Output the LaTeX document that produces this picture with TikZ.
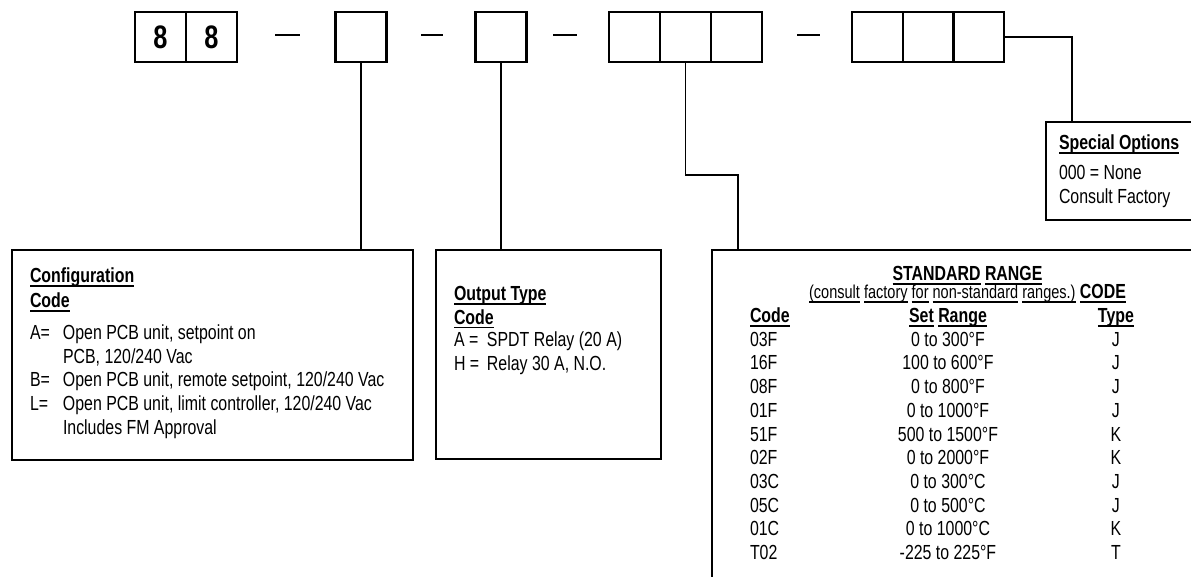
\documentclass[tikz,border=0pt]{standalone}
\usepackage{fontspec}
\setmainfont{Liberation Sans}[FakeStretch=0.78]
\usepackage{array}
\usetikzlibrary{positioning}
\newsavebox{\ulnbox}
\newcommand{\uln}[1]{\leavevmode\sbox\ulnbox{#1}\rlap{\rule[-2.3pt]{\wd\ulnbox}{0.85pt}}\usebox\ulnbox}
\tikzset{
	cell/.style={draw, minimum width=1.02cm, minimum height=1cm, inner sep=0pt, font=\fontsize{18.5}{18.5}\selectfont\bfseries},
	panel/.style={draw, anchor=north west, inner sep=0pt},
	wire/.style={draw, line width=1pt},
	txt/.style={anchor=base west, inner sep=0pt, font=\fontsize{11.6}{13.5}\selectfont}
}

\begin{document}
\begin{tikzpicture}[x=0.02cm, y=-0.02cm, line width=1.15pt]
\useasboundingbox (0,0) rectangle (1191,577);

\node[cell] (c1a) at (160.5,37) {8};
\node[cell] (c1b) at (211.5,37) {8};
\node[cell] (c2) at (361,37) {};
\node[cell] (c3) at (501,37) {};
\node[cell] (c4a) at (634.5,37) {};
\node[cell] (c4b) at (685.5,37) {};
\node[cell] (c4c) at (736.5,37) {};
\node[cell] (c5a) at (877.3,37) {};
\node[cell] (c5b) at (928,37) {};
\node[cell] (c5c) at (978.7,37) {};

\draw (275,35) -- (300,35);
\draw (421,35) -- (443,35);
\draw (553,35) -- (577,35);
\draw (797,35) -- (820,35);

\node[panel, minimum width=8.02cm, minimum height=4.2cm] (cfg) at (11,249) {};
\node[panel, minimum width=4.5cm, minimum height=4.18cm] (out) at (435,249) {};
\node[panel, minimum width=4.5cm, minimum height=1.96cm] (spec) at (1045,121) {};
\node[panel, minimum width=10cm, minimum height=8cm] (rng) at (711,249) {};

\node[txt] (cfghead) at (29,282.5) {\begin{tabular}[t]{@{}l@{}}
\uln{\textbf{Configuration}}\\[0.8pt] \uln{\textbf{Code}}
\end{tabular}};
\node[txt] (cfgbody) at (29,339.5) {\begin{tabular}[t]{@{}p{0.66cm}@{}l@{}}
A= & Open PCB unit, setpoint on\\
 & PCB, 120/240 Vac\\
B= & Open PCB unit, remote setpoint, 120/240 Vac\\
L= & Open PCB unit, limit controller, 120/240 Vac\\
 & Includes FM Approval
\end{tabular}};

\node[txt] (outhead) at (453,300.5) {\begin{tabular}[t]{@{}l@{}}
\uln{\textbf{Output Type}}\\ \uln{\textbf{Code}}
\end{tabular}};
\node[txt] (outbody) at (453,346.5) {\begin{tabular}[t]{@{}p{0.66cm}@{}l@{}}
A = & SPDT Relay (20 A)\\
H = & Relay 30 A, N.O.
\end{tabular}};

\node[txt] (spechead) at (1058,149.5) {\uln{\textbf{Special Options}}};
\node[txt] (specbody) at (1058,179.5) {\begin{tabular}[t]{@{}l@{}}
000 = None\\ Consult Factory
\end{tabular}};

\node[txt, anchor=base] (stdhead) at (967.5,280.5) {\uln{\textbf{STANDARD}} \uln{\textbf{RANGE}}};
\node[txt, anchor=base] (stdnote) at (967.5,298.5) {{\fontsize{10.6}{12}\selectfont\uln{(consult} \uln{factory} \uln{for} \uln{non-standard} \uln{ranges.)}} \uln{\textbf{CODE}}};
\node[txt] (stdtab) at (749,322.5) {\begin{tabular}[t]{@{}p{1.96cm}@{}>{\centering}p{4cm}@{}>{\centering\arraybackslash}p{2.72cm}@{}}
\uln{\textbf{Code}} & \uln{\textbf{Set}} \uln{\textbf{Range}} & \uln{\textbf{Type}}\\
03F & 0 to 300°F & J\\
16F & 100 to 600°F & J\\
08F & 0 to 800°F & J\\
01F & 0 to 1000°F & J\\
51F & 500 to 1500°F & K\\
02F & 0 to 2000°F & K\\
03C & 0 to 300°C & J\\
05C & 0 to 500°C & J\\
01C & 0 to 1000°C & K\\
T02 & -225 to 225°F & T
\end{tabular}};

\coordinate (kink) at (738,175);
\coordinate (sjoin) at (1072,121);
\draw[wire] (c2.south) -- (c2.south |- cfg.north);
\draw[wire] (c3.south) -- (c3.south |- out.north);
\draw[wire] (c4b.south) |- (kink) -- (kink |- rng.north);
\draw[wire] (c5c.east) -| (sjoin);
\end{tikzpicture}
\end{document}
